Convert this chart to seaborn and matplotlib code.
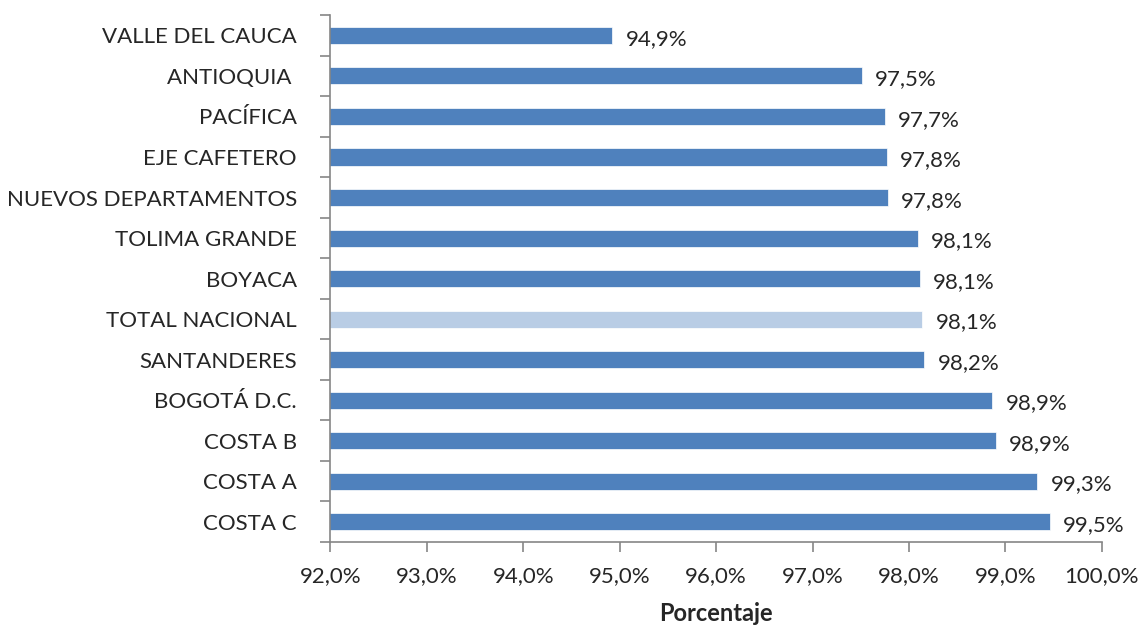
import numpy as np
import pandas as pd
import matplotlib
matplotlib.use('Agg')
import matplotlib.pyplot as plt
import seaborn as sns

regions = ['VALLE DEL CAUCA', 'ANTIOQUIA ', 'PACÍFICA', 'EJE CAFETERO',
           'NUEVOS DEPARTAMENTOS', 'TOLIMA GRANDE', 'BOYACA', 'TOTAL NACIONAL',
           'SANTANDERES', 'BOGOTÁ D.C.', 'COSTA B', 'COSTA A', 'COSTA C']
values = [94.92, 97.51, 97.75, 97.77, 97.78, 98.09, 98.11, 98.14, 98.16,
          98.86, 98.90, 99.33, 99.46]
labels = ['94,9%', '97,5%', '97,7%', '97,8%', '97,8%', '98,1%', '98,1%',
          '98,1%', '98,2%', '98,9%', '98,9%', '99,3%', '99,5%']
xticks = [92, 93, 94, 95, 96, 97, 98, 99, 100]

BLUE = '#4F81BD'
LIGHT = '#B9CDE5'
GREY = '#868686'

sns.set_style('ticks')
plt.rcParams['font.family'] = ['Lato', 'DejaVu Sans']

df = pd.DataFrame({'region': regions, 'value': values})
palette = {r: (LIGHT if r == 'TOTAL NACIONAL' else BLUE) for r in regions}

fig = plt.figure(figsize=(11.43, 6.31), dpi=100)
ax = fig.add_axes([0.289, 0.141, 0.675, 0.835])
sns.barplot(data=df, y='region', x='value', hue='region', palette=palette,
            order=regions, width=0.42, legend=False, ax=ax, saturation=1,
            edgecolor='white', linewidth=0.5)

# bars start at 92, so just clip the axis there
ax.set_xlim(92, 100)
ax.set_ylim(len(regions) - 0.5, -0.5)
ax.set_xticks(xticks)
ax.set_xticklabels([f'{t:.1f}%'.replace('.', ',') for t in xticks], fontsize=16)
ax.tick_params(axis='x', length=7, width=1.2, color=GREY, direction='out', pad=10)

# category ticks sit between bars, like Excel
ax.set_yticks(np.arange(len(regions)))
ax.set_yticklabels(regions, fontsize=16)
ax.set_yticks(np.arange(-0.5, len(regions)), minor=True)
ax.tick_params(axis='y', which='major', length=0, pad=24)
ax.tick_params(axis='y', which='minor', length=7, width=1.2, color=GREY,
               direction='out')

for i, (v, lab) in enumerate(zip(values, labels)):
    ax.text(v + 0.14, i + 0.08, lab, va='center', ha='left', fontsize=16)

ax.set_ylabel('')
ax.set_xlabel('Porcentaje', fontsize=17, fontweight='bold', labelpad=12)

sns.despine(ax=ax)
for s in ['left', 'bottom']:
    ax.spines[s].set_color(GREY)
    ax.spines[s].set_linewidth(1.2)

fig.savefig('out.png', dpi=100)
